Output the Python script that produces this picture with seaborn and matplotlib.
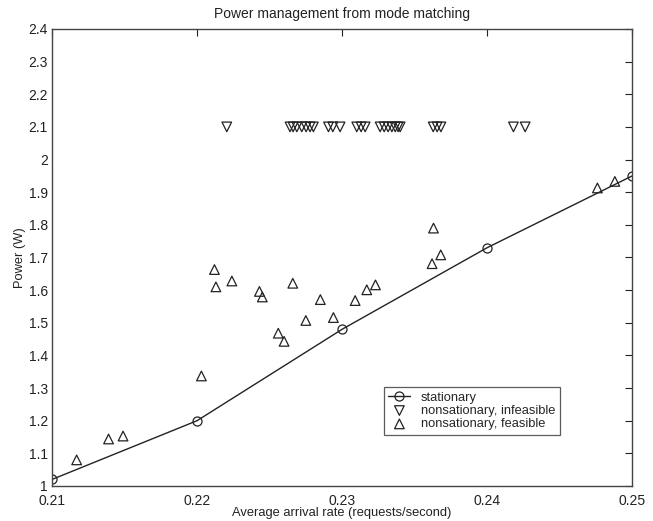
import matplotlib
matplotlib.use("Agg")
import matplotlib.pyplot as plt
import seaborn as sns
import numpy as np
import pandas as pd

# --- data ---
stat_x = [0.21, 0.22, 0.23, 0.24, 0.25]
stat_y = [1.02, 1.20, 1.48, 1.73, 1.95]

feas_x = [0.2117, 0.2139, 0.2149, 0.2203, 0.2212, 0.2213, 0.2224, 0.2243, 0.2245,
          0.2266, 0.2285, 0.2275, 0.2294, 0.2256, 0.2260, 0.2309, 0.2317, 0.2323,
          0.2362, 0.2368, 0.2363, 0.2476, 0.2488]
feas_y = [1.080, 1.144, 1.153, 1.337, 1.663, 1.610, 1.628, 1.596, 1.579,
          1.621, 1.571, 1.507, 1.516, 1.468, 1.443, 1.568, 1.601, 1.616,
          1.681, 1.708, 1.790, 1.913, 1.933]

infeas_x = [0.22205, 0.22641, 0.22662, 0.22688, 0.22722, 0.22752, 0.22779, 0.22802,
            0.22906, 0.22936, 0.22986, 0.23101, 0.23131, 0.23159, 0.23262, 0.23290,
            0.23317, 0.23343, 0.23366, 0.23386, 0.23400, 0.23628, 0.23655, 0.23681,
            0.24181, 0.24262]
infeas_y = [2.1] * len(infeas_x)

x_ticks = [0.21, 0.22, 0.23, 0.24, 0.25]
x_ticklabels = ["0.21", "0.22", "0.23", "0.24", "0.25"]
y_ticks = [1.0, 1.1, 1.2, 1.3, 1.4, 1.5, 1.6, 1.7, 1.8, 1.9, 2.0, 2.1, 2.2, 2.3, 2.4]
y_ticklabels = ["1", "1.1", "1.2", "1.3", "1.4", "1.5", "1.6", "1.7", "1.8", "1.9",
                "2", "2.1", "2.2", "2.3", "2.4"]

sns.set_style("white")
plt.rcParams["font.family"] = ["Liberation Sans", "DejaVu Sans"]

fig = plt.figure(figsize=(6.53, 5.21), dpi=100)
ax = fig.add_axes([0.0796, 0.0672, 0.8886, 0.8772])

df_stat = pd.DataFrame({"x": stat_x, "y": stat_y})
df_inf = pd.DataFrame({"x": infeas_x, "y": infeas_y})
df_fea = pd.DataFrame({"x": feas_x, "y": feas_y})

col = "#222222"
sns.lineplot(data=df_stat, x="x", y="y", ax=ax, color=col, lw=1.0, marker="o",
             markersize=6.5, markerfacecolor="none", markeredgecolor=col,
             markeredgewidth=0.9, label="stationary")
sns.scatterplot(data=df_inf, x="x", y="y", ax=ax, marker="v", s=48,
                facecolor="none", edgecolor=col, linewidth=0.9,
                label="nonsationary, infeasible")
sns.scatterplot(data=df_fea, x="x", y="y", ax=ax, marker="^", s=48,
                facecolor="none", edgecolor=col, linewidth=0.9,
                label="nonsationary, feasible")

ax.set_xlim(0.21, 0.25)
ax.set_ylim(1.0, 2.4)
ax.set_xticks(x_ticks)
ax.set_xticklabels(x_ticklabels)
ax.set_yticks(y_ticks)
ax.set_yticklabels(y_ticklabels)
ax.tick_params(direction="in", length=5, width=0.8, colors=col, labelsize=10,
               top=True, right=True)
ax.tick_params(axis="x", pad=6)
ax.tick_params(axis="y", pad=3)
for s in ax.spines.values():
    s.set_color("#444444")
    s.set_linewidth(1.0)

ax.set_title("Power management from mode matching", fontsize=10, pad=8, color=col)
ax.set_xlabel("Average arrival rate (requests/second)", fontsize=9.3, labelpad=-1, color=col)
ax.set_ylabel("Power (W)", fontsize=9.3, labelpad=2, color=col)

leg = ax.legend(loc="lower left", bbox_to_anchor=(0.572, 0.112), borderaxespad=0,
                fontsize=9.3, frameon=True, fancybox=False, labelspacing=0.1,
                handlelength=1.7, handletextpad=0.8, borderpad=0.35)
leg.get_frame().set_edgecolor("#333333")
leg.get_frame().set_linewidth(0.9)

fig.savefig("out.png", dpi=100)
